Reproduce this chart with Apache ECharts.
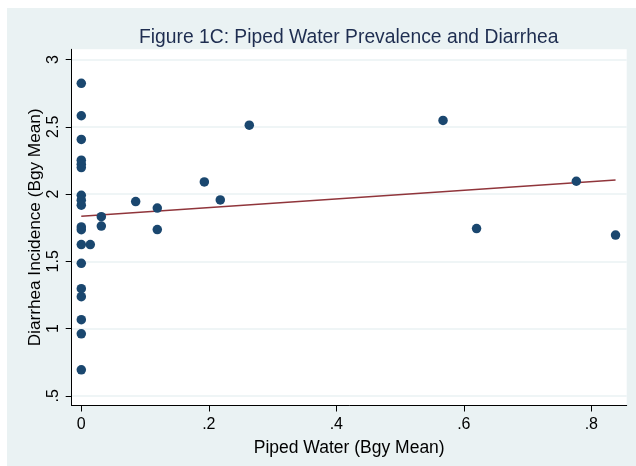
<!DOCTYPE html>
<html>
<head>
<meta charset="utf-8">
<script src="https://cdn.jsdelivr.net/npm/echarts@6/dist/echarts.min.js"></script>
<style>
  html, body { margin: 0; padding: 0; background: #ffffff; }
  #chart { position: absolute; left: 7px; top: 8px; width: 629px; height: 458px; }
</style>
</head>
<body>
<div id="chart"></div>
<script>
// Piped water prevalence (x) and diarrhea incidence (y), barangay means
const pipedWater = [
  0, 0, 0, 0, 0, 0, 0, 0, 0, 0, 0, 0, 0, 0, 0, 0, 0, 0,
  0.0141, 0.0314, 0.0314, 0.0853, 0.1192, 0.1192, 0.193, 0.218, 0.2635,
  0.5674, 0.620, 0.7765, 0.838
];
const diarrhea = [
  2.823, 2.582, 2.406, 2.252, 2.222, 2.197, 1.991, 1.954, 1.917, 1.755, 1.735,
  1.624, 1.485, 1.296, 1.237, 1.066, 0.961, 0.693,
  1.624, 1.832, 1.762, 1.944, 1.896, 1.736, 2.090, 1.956, 2.512,
  2.547, 1.743, 2.095, 1.695
];
// Linear fit line endpoints
const fitX = [0, 0.838];
const fitY = [1.834, 2.105];

const xTicks = [0, 0.2, 0.4, 0.6, 0.8];
const yTicks = [0.5, 1, 1.5, 2, 2.5, 3];

const titleText = 'Figure 1C: Piped Water Prevalence and Diarrhea';
const xName = 'Piped Water (Bgy Mean)';
const yName = 'Diarrhea Incidence (Bgy Mean)';

function stataFmt(v) {
  let s = String(Math.round(v * 1000) / 1000);
  if (s.startsWith('0.')) s = s.slice(1);
  return s;
}

const points = pipedWater.map((x, i) => [x, diarrhea[i]]);
const fitLine = fitX.map((x, i) => [x, fitY[i]]);

const FONT = 'Liberation Sans, Arial, sans-serif';
const chart = echarts.init(document.getElementById('chart'), null, { renderer: 'canvas' });
chart.setOption({
  backgroundColor: '#eaf2f3',
  animation: false,
  title: {
    text: titleText,
    left: 127,
    top: 15,
    textStyle: { fontFamily: FONT, fontSize: 19.3, fontWeight: 'normal', color: '#1e2d50' }
  },
  grid: {
    left: 64.7, top: 41.3, right: 9.3, bottom: 60.5,
    show: true, backgroundColor: '#ffffff', borderWidth: 0
  },
  xAxis: {
    type: 'value',
    min: -0.01506, max: 0.8555,
    name: xName, nameLocation: 'middle', nameGap: 34,
    nameTextStyle: { fontFamily: FONT, fontSize: 17.5, color: '#000' },
    axisLine: { show: true, onZero: false, lineStyle: { color: '#000', width: 1 } },
    axisTick: { show: true, length: 6, customValues: xTicks, lineStyle: { color: '#000' } },
    axisLabel: { customValues: xTicks, formatter: stataFmt, margin: 11,
      fontFamily: FONT, fontSize: 16, color: '#000' },
    splitLine: { show: false }
  },
  yAxis: {
    type: 'value',
    min: 0.4278, max: 3.076,
    name: yName, nameLocation: 'middle', nameGap: 28, nameRotate: 90,
    nameMoveOverlap: false,
    nameTextStyle: { fontFamily: FONT, fontSize: 17.2, color: '#000' },
    axisLine: { show: true, onZero: false, lineStyle: { color: '#000', width: 1 } },
    axisTick: { show: true, length: 6, customValues: yTicks, lineStyle: { color: '#000' } },
    axisLabel: { customValues: yTicks, formatter: stataFmt, rotate: 90, margin: 10,
      fontFamily: FONT, fontSize: 16, color: '#000' },
    splitLine: { show: true, lineStyle: { color: '#eaf2f3', width: 1.5 } }
  },
  series: [
    {
      type: 'scatter',
      data: points,
      symbol: 'circle',
      symbolSize: 9.5,
      itemStyle: { color: '#1a476f', opacity: 1 },
      z: 3
    },
    {
      type: 'line',
      data: fitLine,
      symbol: 'none',
      lineStyle: { color: '#90353b', width: 1.5 },
      z: 2
    }
  ]
});
</script>
</body>
</html>
